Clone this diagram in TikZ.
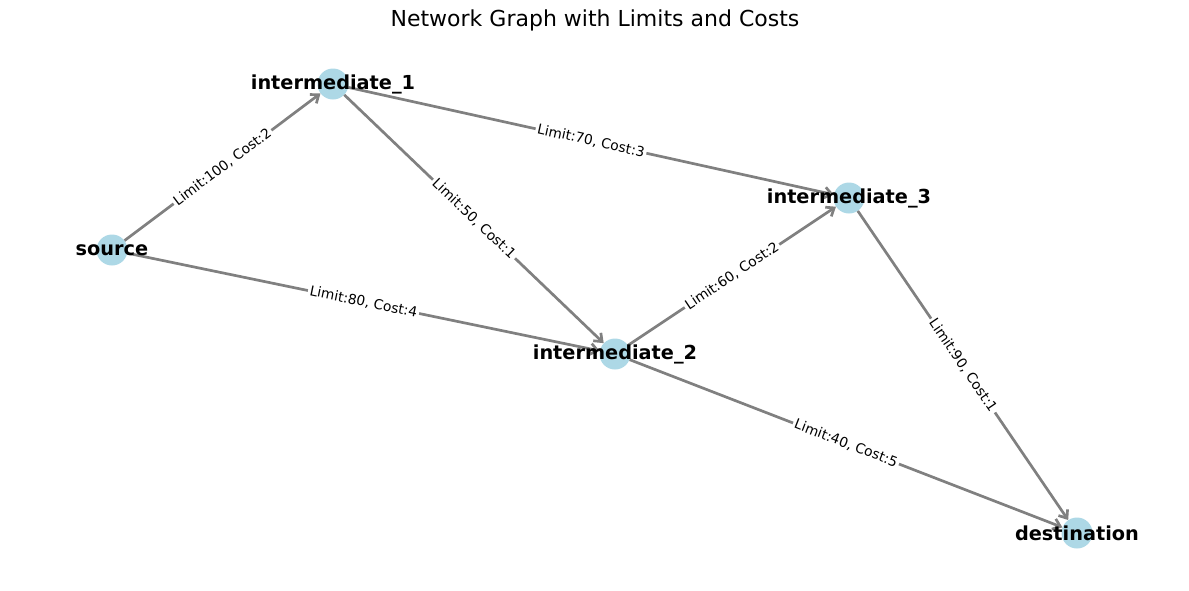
\documentclass[tikz,border=0pt]{standalone}
\usepackage{fontspec}
\setmainfont{DejaVu Sans}
\usepackage{tikz}
\usetikzlibrary{arrows.meta,positioning,calc}

\definecolor{nodeblue}{HTML}{ADD8E6}
\definecolor{edgegray}{HTML}{808080}

\begin{document}
\begin{tikzpicture}[x=1pt, y=-1pt,
    vertex/.style={circle, fill=nodeblue, minimum size=31pt, inner sep=0pt},
    vlabel/.style={font=\fontsize{19.3}{22}\selectfont\bfseries, inner sep=0pt},
    link/.style={draw=edgegray, line width=2.7pt, -{Straight Barb[length=7pt, width=11pt, line width=2.7pt]}},
    cost/.style={midway, sloped, fill=white, inner sep=2pt, font=\fontsize{13.8}{16}\selectfont},
    headline/.style={font=\fontsize{22}{26}\selectfont, inner sep=0pt}
]
\useasboundingbox (0,0) rectangle (1189,590);

\node [headline] (heading) at (595,20) {Network Graph with Limits and Costs};

% vertices
\node [vertex] (src) at (112,250) {};
\node [vertex] (inter1) at (333,84) {};
\node [vertex] (inter2) at (615,354) {};
\node [vertex] (inter3) at (849,198) {};
\node [vertex] (dest) at (1077,533) {};

% links
\draw [link] (src) -- (inter1) node [cost] (c1) {Limit:100, Cost:2};
\draw [link] (src) -- (inter2) node [cost] (c2) {Limit:80, Cost:4};
\draw [link] (inter1) -- (inter2) node [cost] (c3) {Limit:50, Cost:1};
\draw [link] (inter1) -- (inter3) node [cost] (c4) {Limit:70, Cost:3};
\draw [link] (inter2) -- (inter3) node [cost] (c5) {Limit:60, Cost:2};
\draw [link] (inter2) -- (dest) node [cost] (c6) {Limit:40, Cost:5};
\draw [link] (inter3) -- (dest) node [cost] (c7) {Limit:90, Cost:1};

% vertex names on top
\node [vlabel] (srcL) at (src) {source};
\node [vlabel] (inter1L) at (inter1) {intermediate\_1};
\node [vlabel] (inter2L) at (inter2) {intermediate\_2};
\node [vlabel] (inter3L) at (inter3) {intermediate\_3};
\node [vlabel] (destL) at (dest) {destination};

\end{tikzpicture}
\end{document}
